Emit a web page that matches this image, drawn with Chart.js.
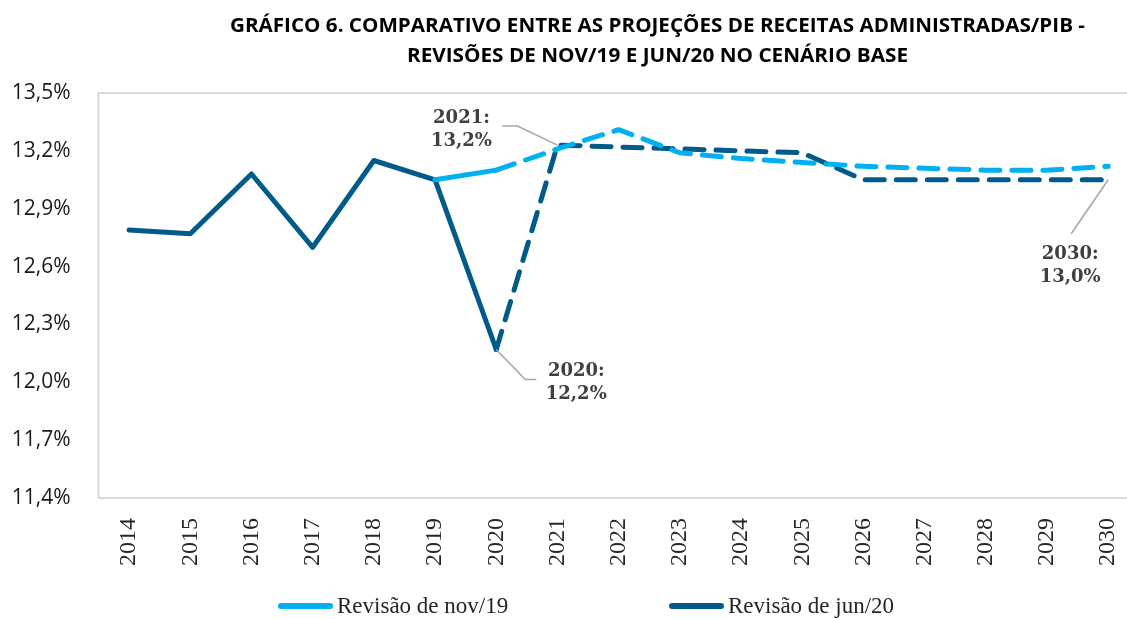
<!DOCTYPE html>
<html>
<head>
<meta charset="utf-8">
<script src="https://cdn.jsdelivr.net/npm/chart.js@4.4.0/dist/chart.umd.min.js"></script>
<style>
  html, body { margin: 0; padding: 0; overflow: hidden; background: #fff; }
  #wrap { width: 1149px; height: 619px; position: relative; }
</style>
</head>
<body>
<div id="wrap"><canvas id="grafico"></canvas></div>
<script>
// Dados (% do PIB)
const anos = ['2014', '2015', '2016', '2017', '2018', '2019', '2020', '2021', '2022',
  '2023', '2024', '2025', '2026', '2027', '2028', '2029', '2030'];

const revisaoNov19 = [null, null, null, null, null, 13.05, 13.10, 13.21, 13.31,
  13.19, 13.16, 13.14, 13.12, 13.11, 13.10, 13.10, 13.12];

const revisaoJun20 = [12.79, 12.77, 13.08, 12.70, 13.15, 13.05, 12.17, 13.23, 13.22,
  13.21, 13.20, 13.19, 13.05, 13.05, 13.05, 13.05, 13.05];

const ticksY = [11.4, 11.7, 12.0, 12.3, 12.6, 12.9, 13.2, 13.5];

const titulo = [
  'GRÁFICO 6. COMPARATIVO ENTRE AS PROJEÇÕES DE RECEITAS ADMINISTRADAS/PIB -',
  'REVISÕES DE NOV/19 E JUN/20 NO CENÁRIO BASE'
];

// rótulos de destaque (série jun/20)
const destaques = [
  { ano: '2021', texto: ['2021:', '13,2%'] },
  { ano: '2020', texto: ['2020:', '12,2%'] },
  { ano: '2030', texto: ['2030:', '13,0%'] }
];

const corNov = '#00B0F0';
const corJun = '#005B8A';

// posições (em px) dos rótulos relativos ao ponto
const layoutDestaques = {
  '2021': { guia: [[-40, -19], [-55, -19]], dx: -96, dy: [-27, -4] },
  '2020': { guia: [[29, 30], [40, 30]], dx: 80, dy: [22, 45] },
  '2030': { guia: [[-37, 54]], dx: -38, dy: [75, 98] }
};

const fmt = v => v.toFixed(1).replace('.', ',') + '%';

const extras = {
  id: 'extras',
  beforeDraw(chart) {
    const { ctx, chartArea: a } = chart;
    ctx.save();
    ctx.strokeStyle = '#D9D9D9';
    ctx.lineWidth = 2;
    ctx.strokeRect(a.left, a.top, a.right - a.left, a.bottom - a.top);
    ctx.restore();
  },
  afterDraw(chart) {
    const { ctx } = chart;
    const xs = chart.scales.x, ys = chart.scales.y;

    // título ajustado à largura
    const linhas = [[230, 1085, 26], [407, 908, 56]];
    ctx.save();
    ctx.fillStyle = '#000';
    ctx.font = 'bold 20px "Open Sans"';
    ctx.textBaseline = 'middle';
    ctx.textAlign = 'left';
    titulo.forEach((t, i) => {
      const [x1, x2, y] = linhas[i];
      const w = ctx.measureText(t).width;
      ctx.save();
      ctx.translate(x1, y);
      ctx.scale((x2 - x1) / w, 1);
      ctx.fillText(t, 0, 0);
      ctx.restore();
    });
    ctx.restore();

    // destaques
    ctx.save();
    destaques.forEach(d => {
      const i = anos.indexOf(d.ano);
      const px = xs.getPixelForValue(i);
      const py = ys.getPixelForValue(revisaoJun20[i]);
      const l = layoutDestaques[d.ano];
      ctx.strokeStyle = '#A6A6A6';
      ctx.lineWidth = 1.5;
      ctx.beginPath();
      ctx.moveTo(px, py);
      l.guia.forEach(p => ctx.lineTo(px + p[0], py + p[1]));
      ctx.stroke();
      ctx.fillStyle = '#404040';
      ctx.font = 'bold 18px "DejaVu Serif"';
      ctx.textAlign = 'center';
      ctx.textBaseline = 'middle';
      d.texto.forEach((t, k) => ctx.fillText(t, px + l.dx, py + l.dy[k]));
    });
    ctx.restore();

    // legenda
    const legX = [278, 669];
    const legY = 606;
    ctx.save();
    chart.data.datasets.forEach((ds, k) => {
      ctx.strokeStyle = ds.borderColor;
      ctx.lineWidth = 6;
      ctx.lineCap = 'round';
      ctx.beginPath();
      ctx.moveTo(legX[k] + 3, legY);
      ctx.lineTo(legX[k] + 52, legY);
      ctx.stroke();
      ctx.fillStyle = '#262626';
      ctx.font = '23px "Liberation Serif"';
      ctx.textAlign = 'left';
      ctx.textBaseline = 'middle';
      ctx.fillText(ds.label, legX[k] + 59, legY + 1);
    });
    ctx.restore();
  }
};

const tracejado = [19, 12];

new Chart(document.getElementById('grafico'), {
  type: 'line',
  data: {
    labels: anos,
    datasets: [
      {
        label: 'Revisão de nov/19',
        data: revisaoNov19,
        borderColor: corNov,
        backgroundColor: corNov,
        borderWidth: 5,
        pointRadius: 0,
        borderCapStyle: 'round',
        borderJoinStyle: 'round',
        segment: { borderDash: c => c.p0DataIndex >= 6 ? tracejado : undefined }
      },
      {
        label: 'Revisão de jun/20',
        data: revisaoJun20,
        borderColor: corJun,
        backgroundColor: corJun,
        borderWidth: 5,
        pointRadius: 0,
        borderCapStyle: 'round',
        borderJoinStyle: 'round',
        segment: { borderDash: c => c.p0DataIndex >= 6 ? tracejado : undefined }
      }
    ]
  },
  options: {
    responsive: true,
    maintainAspectRatio: false,
    animation: false,
    layout: { padding: { top: 93, bottom: 36, left: 0, right: 0 } },
    plugins: {
      legend: { display: false },
      title: { display: false },
      tooltip: { enabled: false }
    },
    scales: {
      x: {
        offset: true,
        grid: { display: false },
        border: { display: false },
        ticks: {
          autoSkip: false,
          minRotation: 90,
          maxRotation: 90,
          padding: 12,
          color: '#262626',
          font: { family: '"Liberation Serif"', size: 24 }
        },
        afterFit: s => { s.height = 85; }
      },
      y: {
        min: 11.4,
        max: 13.5,
        grid: { display: false },
        border: { display: false },
        afterBuildTicks: s => { s.ticks = ticksY.map(v => ({ value: v })); },
        ticks: {
          padding: 20,
          color: '#1a1a1a',
          font: { family: '"Open Sans"', size: 21 },
          callback: v => fmt(v)
        },
        afterFit: s => { s.width = 98.5; }
      }
    }
  },
  plugins: [extras]
});
</script>
</body>
</html>
